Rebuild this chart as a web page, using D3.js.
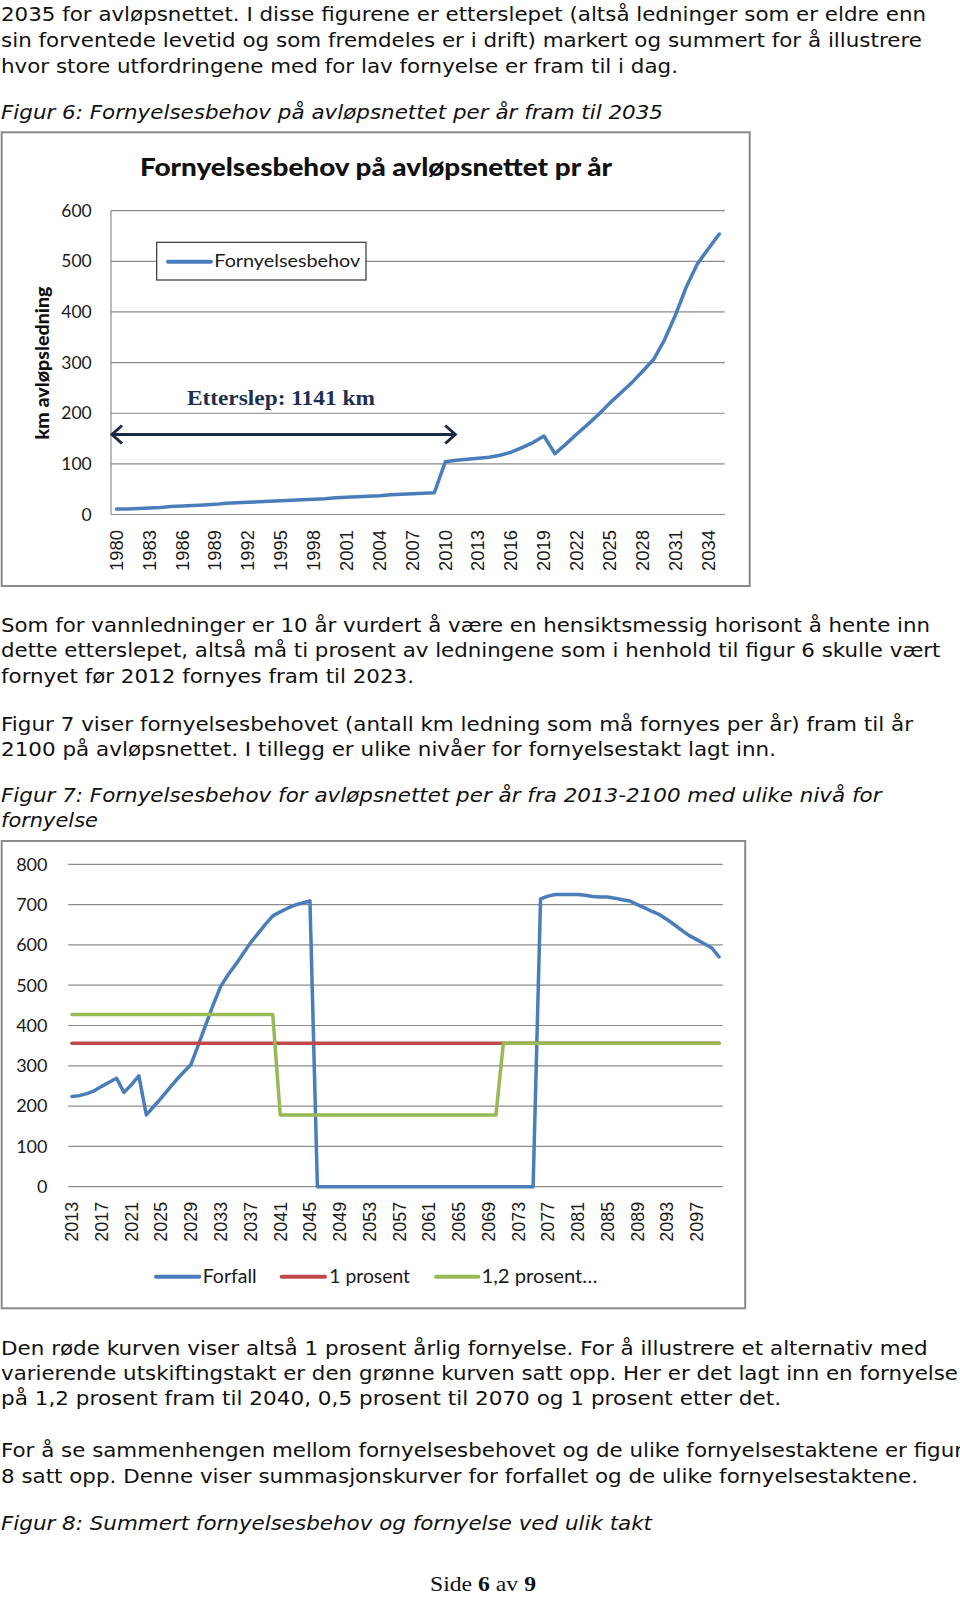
<!DOCTYPE html>
<html><head><meta charset="utf-8">
<script src="https://cdn.jsdelivr.net/npm/d3@7"></script>
<style>html,body{margin:0;padding:0;background:#fff;} svg{display:block;}</style>
</head><body>
<script>
// ---------------- DATA ----------------
// Figur 6
const years6 = ["1980","1981","1982","1983","1984","1985","1986","1987","1988","1989",
  "1990","1991","1992","1993","1994","1995","1996","1997","1998","1999",
  "2000","2001","2002","2003","2004","2005","2006","2007","2008","2009",
  "2010","2011","2012","2013","2014","2015","2016","2017","2018","2019",
  "2020","2021","2022","2023","2024","2025","2026","2027","2028","2029",
  "2030","2031","2032","2033","2034","2035"];
const fornyelsesbehov = [11,11,12,13,14,16,17,18,19,20,
  22,23,24,25,26,27,28,29,30,31,
  33,34,35,36,37,39,40,41,42,43,
  104,107,109,111,113,117,123,132,142,155,
  120,139,159,178,198,220,240,260,283,306,
  345,394,450,495,525,554];
const xTicks6 = ["1980","1983","1986","1989","1992","1995","1998","2001","2004","2007","2010","2013","2016","2019","2022","2025","2028","2031","2034"];
const yTicks6 = [0,100,200,300,400,500,600];
const title6 = "Fornyelsesbehov på avløpsnettet pr år";
const yTitle6 = "km avløpsledning";
const legend6 = ["Fornyelsesbehov"];
const etterslepLabel = "Etterslep: 1141 km";
const etterslepArrow = {from: "1980", to: "2011", value: 158, labelYear: "1995", labelValue: 216};

// Figur 7
const years7 = ["2013","2014","2015","2016","2017","2018","2019","2020","2021","2022",
  "2023","2024","2025","2026","2027","2028","2029","2030","2031","2032",
  "2033","2034","2035","2036","2037","2038","2039","2040","2041","2042",
  "2043","2044","2045","2046","2047","2048","2049","2050","2051","2052",
  "2053","2054","2055","2056","2057","2058","2059","2060","2061","2062",
  "2063","2064","2065","2066","2067","2068","2069","2070","2071","2072",
  "2073","2074","2075","2076","2077","2078","2079","2080","2081","2082",
  "2083","2084","2085","2086","2087","2088","2089","2090","2091","2092",
  "2093","2094","2095","2096","2097","2098","2099","2100"];
const forfall = [224,226,231,238,249,259,269,234,253,275,
  178,199,220,242,264,284,303,352,402,452,
  497,526,551,578,605,628,651,672,682,691,
  699,704,709,0,0,0,0,0,0,0,
  0,0,0,0,0,0,0,0,0,0,
  0,0,0,0,0,0,0,0,0,0,
  0,0,0,714,721,725,725,725,725,723,
  720,719,719,716,712,709,700,692,683,675,
  663,650,636,623,613,603,593,570];
const prosent1 = [356,356,356,356,356,356,356,356,356,356,
  356,356,356,356,356,356,356,356,356,356,
  356,356,356,356,356,356,356,356,356,356,
  356,356,356,356,356,356,356,356,356,356,
  356,356,356,356,356,356,356,356,356,356,
  356,356,356,356,356,356,356,356,356,356,
  356,356,356,356,356,356,356,356,356,356,
  356,356,356,356,356,356,356,356,356,356,
  356,356,356,356,356,356,356,356];
const prosent12 = [427,427,427,427,427,427,427,427,427,427,
  427,427,427,427,427,427,427,427,427,427,
  427,427,427,427,427,427,427,427,178,178,
  178,178,178,178,178,178,178,178,178,178,
  178,178,178,178,178,178,178,178,178,178,
  178,178,178,178,178,178,178,178,356,356,
  356,356,356,356,356,356,356,356,356,356,
  356,356,356,356,356,356,356,356,356,356,
  356,356,356,356,356,356,356,356];
const xTicks7 = ["2013","2017","2021","2025","2029","2033","2037","2041","2045","2049","2053","2057","2061","2065","2069","2073","2077","2081","2085","2089","2093","2097"];
const yTicks7 = [0,100,200,300,400,500,600,700,800];
const legend7 = ["Forfall","1 prosent","1,2 prosent…"];

// Body text
const textTop = [
  "2035 for avløpsnettet. I disse figurene er etterslepet (altså ledninger som er eldre enn",
  "sin forventede levetid og som fremdeles er i drift) markert og summert for å illustrere",
  "hvor store utfordringene med for lav fornyelse er fram til i dag.",
  "Figur 6: Fornyelsesbehov på avløpsnettet per år fram til 2035"];
const textMid = [
  "Som for vannledninger er 10 år vurdert å være en hensiktsmessig horisont å hente inn",
  "dette etterslepet, altså må ti prosent av ledningene som i henhold til figur 6 skulle vært",
  "fornyet før 2012 fornyes fram til 2023.",
  "Figur 7 viser fornyelsesbehovet (antall km ledning som må fornyes per år) fram til år",
  "2100 på avløpsnettet. I tillegg er ulike nivåer for fornyelsestakt lagt inn.",
  "Figur 7: Fornyelsesbehov for avløpsnettet per år fra 2013-2100 med ulike nivå for",
  "fornyelse"];
const textBottom = [
  "Den røde kurven viser altså 1 prosent årlig fornyelse. For å illustrere et alternativ med",
  "varierende utskiftingstakt er den grønne kurven satt opp. Her er det lagt inn en fornyelse",
  "på 1,2 prosent fram til 2040, 0,5 prosent til 2070 og 1 prosent etter det.",
  "For å se sammenhengen mellom fornyelsesbehovet og de ulike fornyelsestaktene er figur",
  "8 satt opp. Denne viser summasjonskurver for forfallet og de ulike fornyelsestaktene.",
  "Figur 8: Summert fornyelsesbehov og fornyelse ved ulik takt"];
const footer = ["Side ", "6", " av ", "9"];

// ---------------- LAYOUT ----------------
const W = 960, H = 1597;
const svg = d3.select("body").append("svg").attr("width", W).attr("height", H);
svg.append("rect").attr("width", W).attr("height", H).attr("fill", "#fff");

const bodyFont = "'DejaVu Sans', Verdana, sans-serif";
const chartFont = "Lato, 'Open Sans', sans-serif";
const tickFont = "'Liberation Sans', Arial, sans-serif";

// [baseline, width, italic]
const layTop = [[21,925,0],[47,921,0],[73,677,0],[119,662,1]];
const layMid = [[631.8,929,0],[657.2,939.5,0],[682.7,413,0],[730.5,912,0],[755.9,775,0],[801.8,880.5,1],[827.2,97,1]];
const layBottom = [[1354.5,926.5,0],[1380,957,0],[1405.4,780,0],[1457.3,962,0],[1482.8,917,0],[1529.6,651,1]];

function para(lines, lay) {
  lines.forEach((t, i) => {
    const [b, w, it] = lay[i];
    svg.append("text").attr("x", 1).attr("y", b)
      .attr("font-family", bodyFont).attr("font-size", 19)
      .attr("font-style", it ? "italic" : "normal")
      .attr("fill", "#111")
      .attr("textLength", w).attr("lengthAdjust", "spacingAndGlyphs")
      .text(t);
  });
}
para(textTop, layTop);
para(textMid, layMid);
para(textBottom, layBottom);

// footer
const ft = svg.append("text").attr("x", 430).attr("y", 1591)
  .attr("font-family", "'Liberation Serif', 'Times New Roman', serif").attr("font-size", 22)
  .attr("fill", "#111").attr("textLength", 106).attr("lengthAdjust", "spacingAndGlyphs");
footer.forEach((s, i) => ft.append("tspan").attr("font-weight", (i === 1 || i === 3) ? "bold" : "normal").text(s));

// ---------------- CHART 1 ----------------
const c1 = {left: 111, right: 724.8, top: 210.7, bottom: 514.5};
const g1 = svg.append("g");
g1.append("rect").attr("x", 1.7).attr("y", 132.3).attr("width", 748).attr("height", 453.7)
  .attr("fill", "#fff").attr("stroke", "#8a8a8a").attr("stroke-width", 2);

const x6 = d3.scalePoint().domain(years6).range([c1.left, c1.right]).padding(0.5);
const y6 = d3.scaleLinear().domain([0, 600]).range([c1.bottom, c1.top]);

g1.selectAll(".grid").data(yTicks6.filter(d => d > 0)).enter().append("line")
  .attr("x1", c1.left).attr("x2", c1.right).attr("y1", d => y6(d)).attr("y2", d => y6(d))
  .attr("stroke", "#8c8c8c").attr("stroke-width", 1.2);
g1.append("line").attr("x1", c1.left).attr("x2", c1.left).attr("y1", c1.top).attr("y2", c1.bottom)
  .attr("stroke", "#8c8c8c").attr("stroke-width", 1.2);
g1.append("line").attr("x1", c1.left).attr("x2", c1.right).attr("y1", c1.bottom).attr("y2", c1.bottom)
  .attr("stroke", "#8c8c8c").attr("stroke-width", 1.2);

g1.selectAll(".yl").data(yTicks6).enter().append("text")
  .attr("x", 91.7).attr("y", d => y6(d)).attr("dy", "0.35em").attr("text-anchor", "end")
  .attr("font-family", chartFont).attr("font-size", 17.5).attr("fill", "#1a1a1a").text(d => d);

g1.selectAll(".xl").data(xTicks6).enter().append("text")
  .attr("transform", d => `translate(${x6(d)},530) rotate(-90)`)
  .attr("dy", "0.35em").attr("text-anchor", "end")
  .attr("font-family", tickFont).attr("font-size", 18).attr("fill", "#1a1a1a")
  .attr("textLength", 41).attr("lengthAdjust", "spacingAndGlyphs").text(d => d);

g1.append("text").attr("x", 140).attr("y", 175.7)
  .attr("font-family", chartFont).attr("font-weight", "900").attr("font-size", 25).attr("fill", "#111")
  .attr("textLength", 472).attr("lengthAdjust", "spacingAndGlyphs").text(title6);

g1.append("text").attr("transform", "translate(43,363) rotate(-90)")
  .attr("dy", "0.35em").attr("text-anchor", "middle")
  .attr("font-family", chartFont).attr("font-weight", "900").attr("font-size", 18).attr("fill", "#111")
  .attr("textLength", 153).attr("lengthAdjust", "spacingAndGlyphs").text(yTitle6);

// legend
g1.append("rect").attr("x", 156.7).attr("y", 242.3).attr("width", 209.3).attr("height", 37.7)
  .attr("fill", "#fff").attr("stroke", "#333").attr("stroke-width", 1.2);
g1.append("line").attr("x1", 168).attr("x2", 211).attr("y1", 261.7).attr("y2", 261.7)
  .attr("stroke", "#4A7EBB").attr("stroke-width", 4).attr("stroke-linecap", "round");
g1.append("text").attr("x", 214.3).attr("y", 266.7)
  .attr("font-family", chartFont).attr("font-size", 17.5).attr("fill", "#1a1a1a")
  .attr("textLength", 146).attr("lengthAdjust", "spacingAndGlyphs").text(legend6[0]);

// series
const data6 = years6.map((y, i) => ({year: y, v: fornyelsesbehov[i]}));
g1.append("path").datum(data6)
  .attr("d", d3.line().x(d => x6(d.year)).y(d => y6(d.v)))
  .attr("fill", "none").attr("stroke", "#4A7EBB").attr("stroke-width", 3.5)
  .attr("stroke-linejoin", "round").attr("stroke-linecap", "round");

// annotation
const ay = y6(etterslepArrow.value);
const ax1 = c1.left, ax2 = x6(etterslepArrow.to);
const navy = "#1B2A47";
g1.append("line").attr("x1", ax1 + 1).attr("x2", ax2 - 1).attr("y1", ay).attr("y2", ay)
  .attr("stroke", navy).attr("stroke-width", 3);
g1.append("polyline").attr("points", `${ax1 + 11},${ay - 9} ${ax1 + 1},${ay} ${ax1 + 11},${ay + 9}`)
  .attr("fill", "none").attr("stroke", navy).attr("stroke-width", 3).attr("stroke-linejoin", "miter");
g1.append("polyline").attr("points", `${ax2 - 11},${ay - 9} ${ax2 - 1},${ay} ${ax2 - 11},${ay + 9}`)
  .attr("fill", "none").attr("stroke", navy).attr("stroke-width", 3).attr("stroke-linejoin", "miter");
g1.append("text").attr("x", x6(etterslepArrow.labelYear)).attr("y", y6(etterslepArrow.labelValue))
  .attr("text-anchor", "middle")
  .attr("font-family", "'Liberation Serif', 'Times New Roman', serif").attr("font-weight", "bold")
  .attr("font-size", 21).attr("fill", "#1F2F4F")
  .attr("textLength", 188).attr("lengthAdjust", "spacingAndGlyphs").text(etterslepLabel);

// ---------------- CHART 2 ----------------
const c2 = {left: 68.2, right: 722.8, top: 864.3, bottom: 1186.7};
const g2 = svg.append("g");
g2.append("rect").attr("x", 1.7).attr("y", 841).attr("width", 743.5).attr("height", 467.3)
  .attr("fill", "#fff").attr("stroke", "#8a8a8a").attr("stroke-width", 2);

const x7 = d3.scalePoint().domain(years7).range([c2.left, c2.right]).padding(0.5);
const y7 = d3.scaleLinear().domain([0, 800]).range([c2.bottom, c2.top]);

g2.selectAll(".grid").data(yTicks7).enter().append("line")
  .attr("x1", c2.left).attr("x2", c2.right).attr("y1", d => y7(d)).attr("y2", d => y7(d))
  .attr("stroke", "#8c8c8c").attr("stroke-width", 1.2);

g2.selectAll(".yl").data(yTicks7).enter().append("text")
  .attr("x", 47.5).attr("y", d => y7(d)).attr("dy", "0.35em").attr("text-anchor", "end")
  .attr("font-family", chartFont).attr("font-size", 18).attr("fill", "#1a1a1a").text(d => d);

g2.selectAll(".xl").data(xTicks7).enter().append("text")
  .attr("transform", d => `translate(${x7(d)},1201.7) rotate(-90)`)
  .attr("dy", "0.35em").attr("text-anchor", "end")
  .attr("font-family", tickFont).attr("font-size", 18).attr("fill", "#1a1a1a")
  .attr("textLength", 40).attr("lengthAdjust", "spacingAndGlyphs").text(d => d);

const series7 = [
  {name: legend7[0], vals: forfall, color: "#4A7EBB"},
  {name: legend7[1], vals: prosent1, color: "#BE4B48"},
  {name: legend7[2], vals: prosent12, color: "#98B954"}];
const line7 = d3.line().x(d => x7(d.year)).y(d => y7(d.v));
series7.forEach(s => {
  g2.append("path").datum(years7.map((y, i) => ({year: y, v: s.vals[i]})))
    .attr("d", line7).attr("fill", "none").attr("stroke", s.color).attr("stroke-width", 3.5)
    .attr("stroke-linejoin", "round").attr("stroke-linecap", "round");
});

// legend
const leg7 = [{x1: 156, x2: 199.3, tx: 202.7, tw: 54}, {x1: 281.7, x2: 325, tx: 329.3, tw: 80.7}, {x1: 436, x2: 478.3, tx: 481.5, tw: 116}];
series7.forEach((s, i) => {
  const L = leg7[i];
  g2.append("line").attr("x1", L.x1).attr("x2", L.x2).attr("y1", 1276.7).attr("y2", 1276.7)
    .attr("stroke", s.color).attr("stroke-width", 4).attr("stroke-linecap", "round");
  g2.append("text").attr("x", L.tx).attr("y", 1283.3)
    .attr("font-family", chartFont).attr("font-size", 18.5).attr("fill", "#1a1a1a")
    .attr("textLength", L.tw).attr("lengthAdjust", "spacingAndGlyphs").text(s.name);
});
</script>
</body></html>
